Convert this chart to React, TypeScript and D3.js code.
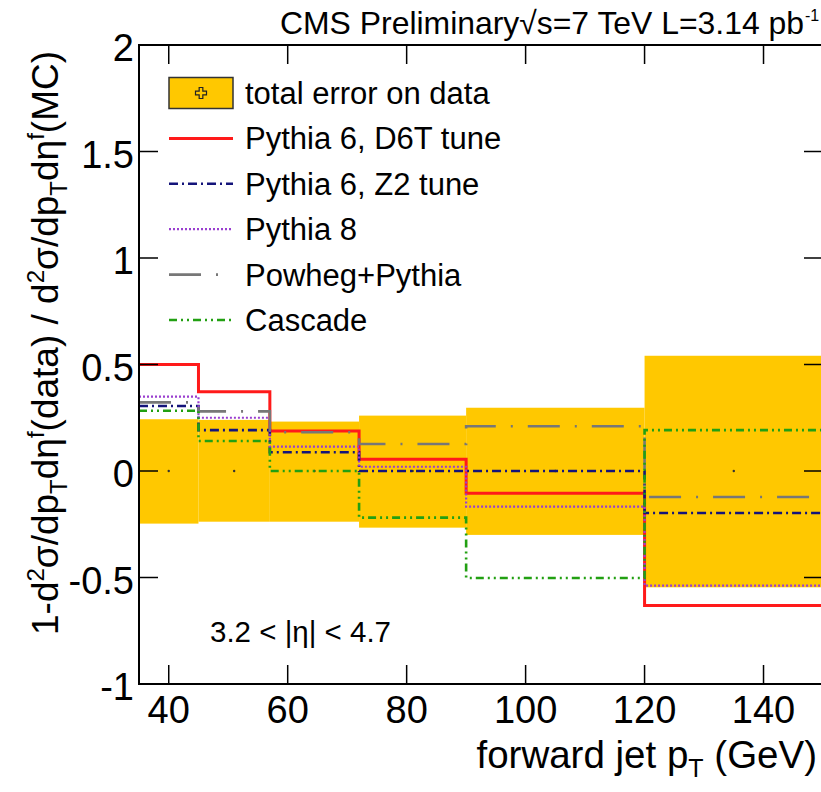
import React from "react";
import * as d3 from "d3";

const EDGES = [35, 45, 57, 72, 90, 120, 150];
const BAND_HI = [0.243, 0.24, 0.232, 0.26, 0.297, 0.541];
const BAND_LO = [-0.247, -0.238, -0.238, -0.266, -0.3, -0.546];
const DATA = [0, 0, 0, 0, 0, 0];
const D6T = [0.5, 0.372, 0.188, 0.055, -0.105, -0.632];
const Z2 = [0.305, 0.192, 0.088, 0.0, 0.0, -0.197];
const P8 = [0.349, 0.25, 0.114, 0.02, -0.167, -0.538];
const POWHEG = [0.322, 0.28, 0.182, 0.127, 0.21, -0.122];
const CASCADE = [0.283, 0.141, 0.0, -0.219, -0.502, 0.192];
const X_TICKS = [40, 60, 80, 100, 120, 140];
const Y_TICKS = [-1, -0.5, 0, 0.5, 1, 1.5, 2];
const Y_TICK_LABELS = ["-1", "-0.5", "0", "0.5", "1", "1.5", "2"];
const LEGEND_LABELS = [
  "total error on data",
  "Pythia 6, D6T tune",
  "Pythia 6, Z2 tune",
  "Pythia 8",
  "Powheg+Pythia",
  "Cascade",
];

const FONT = "'Liberation Sans', Arial, Helvetica, sans-serif";

const W = 821;
const H = 792;
const L = 139;
const R = 823;
const T = 45;
const B = 684;

const SERIES = [
  { key: "d6t", values: D6T, color: "#ff1a1a", dash: "", width: 3 },
  { key: "z2", values: Z2, color: "#14147a", dash: "9,4,2,4", width: 2.6 },
  { key: "p8", values: P8, color: "#9a3fd0", dash: "2,2", width: 2.2 },
  { key: "pow", values: POWHEG, color: "#777777", dash: "32,15,2,15", width: 2.6 },
  { key: "cas", values: CASCADE, color: "#22a012", dash: "8,4,2,4,2,4", width: 2.6 },
];

export default function App() {
  const x = d3.scaleLinear().domain([35, 150]).range([L, R]);
  const y = d3.scaleLinear().domain([-1, 2]).range([B, T]);

  const stepLine = d3
    .line<[number, number]>()
    .x((d) => x(d[0]))
    .y((d) => y(d[1]))
    .curve(d3.curveStepAfter);

  const stepPts = (vals: number[]): [number, number][] => {
    const pts: [number, number][] = vals.map((v, i) => [EDGES[i], v]);
    pts.push([EDGES[EDGES.length - 1], vals[vals.length - 1]]);
    return pts;
  };

  const tickLen = 19;
  const legendX0 = 169;
  const legendX1 = 233;
  const legendRow = (i: number) => 93 + i * 45.4;

  const plusPath = (cx: number, cy: number, s: number) => {
    const a = s / 2;
    const b = s / 6;
    return `M${cx - b},${cy - a}H${cx + b}V${cy - b}H${cx + a}V${cy + b}H${cx + b}V${cy + a}H${cx - b}V${cy + b}H${cx - a}V${cy - b}H${cx - b}Z`;
  };

  return (
    <svg
      width={W}
      height={H}
      style={{ position: "absolute", left: 0, top: 0, background: "#fff" }}
      fontFamily={FONT}
    >
      <rect x={0} y={0} width={W} height={H} fill="#fff" />
      <defs>
        <clipPath id="plotclip">
          <rect x={L} y={T} width={R - L} height={B - T} />
        </clipPath>
      </defs>

      <g clipPath="url(#plotclip)">
        {BAND_HI.map((hi, i) => (
          <rect
            key={"band" + i}
            x={x(EDGES[i])}
            y={y(hi)}
            width={x(EDGES[i + 1]) - x(EDGES[i])}
            height={y(BAND_LO[i]) - y(hi)}
            fill="#ffc800"
          />
        ))}
        {DATA.map((v, i) => (
          <circle
            key={"pt" + i}
            cx={x((EDGES[i] + EDGES[i + 1]) / 2)}
            cy={y(v)}
            r={1.2}
            fill="#333"
          />
        ))}
        {SERIES.map((s) => (
          <path
            key={s.key}
            d={stepLine(stepPts(s.values)) || ""}
            fill="none"
            stroke={s.color}
            strokeWidth={s.width}
            strokeDasharray={s.dash || undefined}
          />
        ))}
      </g>

      {/* ticks */}
      {X_TICKS.map((t) => (
        <g key={"xt" + t}>
          <line x1={x(t)} x2={x(t)} y1={B} y2={B - tickLen} stroke="#000" strokeWidth={1.5} />
          <line x1={x(t)} x2={x(t)} y1={T} y2={T + tickLen} stroke="#000" strokeWidth={1.5} />
          <text x={x(t)} y={723} fontSize={38} textAnchor="middle" fill="#000">
            {t}
          </text>
        </g>
      ))}
      {Y_TICKS.map((t, i) => (
        <g key={"yt" + t}>
          <line x1={L} x2={L + tickLen} y1={y(t)} y2={y(t)} stroke="#000" strokeWidth={1.5} />
          <line x1={R - tickLen} x2={R} y1={y(t)} y2={y(t)} stroke="#000" strokeWidth={1.5} />
          <text x={134} y={y(t) + 16} fontSize={38} textAnchor="end" fill="#000">
            {Y_TICK_LABELS[i]}
          </text>
        </g>
      ))}

      {/* frame */}
      <rect x={L} y={T} width={R - L} height={B - T} fill="none" stroke="#000" strokeWidth={2} />

      {/* legend */}
      <rect
        x={legendX0}
        y={legendRow(0) - 15.5}
        width={legendX1 - legendX0}
        height={31}
        fill="#ffc800"
        stroke="#333"
        strokeWidth={1.5}
      />
      <path d={plusPath((legendX0 + legendX1) / 2, legendRow(0), 11)} fill="none" stroke="#222" strokeWidth={1.2} />
      {SERIES.map((s, i) => (
        <line
          key={"lg" + s.key}
          x1={legendX0}
          x2={legendX1}
          y1={legendRow(i + 1)}
          y2={legendRow(i + 1)}
          stroke={s.color}
          strokeWidth={s.width}
          strokeDasharray={s.dash || undefined}
        />
      ))}
      {LEGEND_LABELS.map((lab, i) => (
        <text key={"lt" + i} x={245} y={legendRow(i) + 11} fontSize={31} fill="#000">
          {lab}
        </text>
      ))}

      {/* eta range */}
      <text x={210} y={642} fontSize={29.5} fill="#000">
        3.2 &lt; |η| &lt; 4.7
      </text>

      {/* title */}
      <text
        x={280}
        y={34}
        fontSize={32}
        fill="#000"
        textLength={524}
        lengthAdjust="spacingAndGlyphs"
      >
        CMS Preliminary√s=7 TeV L=3.14 pb
      </text>
      <text x={805} y={21} fontSize={16} fill="#000">
        -1
      </text>

      {/* x label */}
      <text x={817} y={768} fontSize={38.5} textAnchor="end" fill="#000">
        forward jet p
        <tspan fontSize={25} dy={9}>T</tspan>
        <tspan dy={-9}> (GeV)</tspan>
      </text>

      {/* y label */}
      <text
        transform="translate(58,343) rotate(-90)"
        fontSize={37}
        textAnchor="middle"
        fill="#000"
      >
        1-d<tspan fontSize={24} dy={-14}>2</tspan>
        <tspan dy={14}>σ/dp</tspan>
        <tspan fontSize={24} dy={9}>T</tspan>
        <tspan dy={-9}>dη</tspan>
        <tspan fontSize={24} dy={-14}>f</tspan>
        <tspan dy={14}>(data) / d</tspan>
        <tspan fontSize={24} dy={-14}>2</tspan>
        <tspan dy={14}>σ/dp</tspan>
        <tspan fontSize={24} dy={9}>T</tspan>
        <tspan dy={-9}>dη</tspan>
        <tspan fontSize={24} dy={-14}>f</tspan>
        <tspan dy={14}>(MC)</tspan>
      </text>
    </svg>
  );
}
